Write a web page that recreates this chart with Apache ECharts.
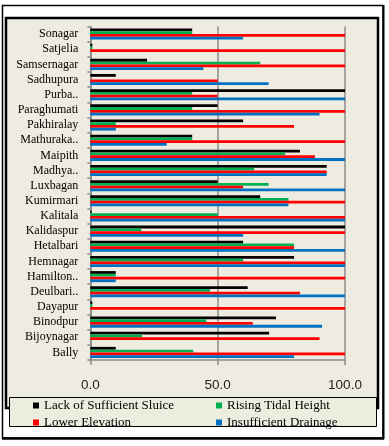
<!DOCTYPE html>
<html><head><meta charset="utf-8">
<script src="https://cdn.jsdelivr.net/npm/echarts@6/dist/echarts.min.js"></script>
<style>html,body{margin:0;padding:0;background:#fff}#c{width:389px;height:446px}</style>
</head><body><div id="c"></div>
<script>
const categories = ['Sonagar','Satjelia','Samsernagar','Sadhupura','Purba..','Paraghumati','Pakhiralay','Mathuraka..','Maipith','Madhya..','Luxbagan','Kumirmari','Kalitala','Kalidaspur','Hetalbari','Hemnagar','Hamilton..','Deulbari..','Dayapur','Binodpur','Bijoynagar','Bally'];
const lackSluice   = [40, 0.8, 22.3, 10, 100, 50, 60, 40, 82.3, 92.8, 50, 66.7, 0.5, 100, 60, 80, 10, 61.8, 0.8, 72.9, 70.2, 10];
const risingTidal  = [40, 0.8, 66.7, 0, 40, 40, 10, 40, 76.5, 64.3, 70, 77.8, 50, 20, 80, 60, 10, 47, 0.8, 45.5, 20.3, 40.4];
const lowerElev    = [100, 100, 100, 50, 50, 100, 80, 100, 88.2, 92.8, 60, 100, 100, 100, 80, 100, 100, 82.3, 100, 63.8, 90, 100];
const insufDrain   = [60, 0, 44.4, 70, 100, 90, 10, 30, 100, 92.8, 100, 77.8, 100, 60, 100, 100, 10, 100, 0, 91, 0, 80];
const seriesNames = ['Lack of Sufficient Sluice','Rising Tidal Height','Lower Elevation','Insufficient Drainage'];
const xTicks = [0, 50, 100];

const colors = ['#000000','#00B050','#FF0000','#0070C0'];
const values = [lackSluice, risingTidal, lowerElev, insufDrain];
const chart = echarts.init(document.getElementById('c'), null, {renderer:'canvas'});
const serif = 'Liberation Serif';
const legendBase = {
  orient:'vertical', itemWidth:6, itemHeight:6, itemGap:4, icon:'rect',
  textStyle:{fontFamily:serif, fontSize:13, color:'#000'}, padding:0, selectedMode:false
};
chart.setOption({
  animation:false,
  backgroundColor:'#ffffff',
  graphic:[
    {type:'rect', z:-10, shape:{x:2.5,y:5.5,width:380.5,height:432.5}, style:{fill:'#fff', stroke:'#000', lineWidth:1.5}},
    {type:'line', z:-9, shape:{x1:2,y1:438.5,x2:384,y2:438.5}, style:{stroke:'#000', lineWidth:2.5}},
    {type:'line', z:-9, shape:{x1:383.5,y1:5,x2:383.5,y2:439}, style:{stroke:'#000', lineWidth:2}},
    {type:'rect', z:-8, shape:{x:6,y:18,width:372,height:390}, style:{fill:'#EEEBE0', stroke:'#000', lineWidth:2.5}},
    {type:'rect', z:-7, shape:{x:9.5,y:397.5,width:367,height:29}, style:{fill:'#EBEEDF', stroke:'#000', lineWidth:1}}
  ],
  legend:[
    Object.assign({left:33, top:399, data:[seriesNames[0], seriesNames[2]]}, legendBase),
    Object.assign({left:216, top:399, data:[seriesNames[1], seriesNames[3]]}, legendBase)
  ],
  grid:{left:90.3, right:44, top:26.5, bottom:86, containLabel:false},
  xAxis:{
    type:'value', min:xTicks[0], max:xTicks[xTicks.length-1], interval:50,
    axisLine:{show:true, lineStyle:{color:'#8C8C8C', width:1.5}},
    axisTick:{show:true, length:5, lineStyle:{color:'#8C8C8C', width:1.5}},
    splitLine:{show:true, lineStyle:{color:'#8C8C8C', width:1.5}},
    axisLabel:{margin:18, fontFamily:'Liberation Sans', fontSize:13.5, color:'#222', formatter:v=>v.toFixed(1)}
  },
  yAxis:{
    type:'category', inverse:true, data:categories,
    axisLine:{show:true, lineStyle:{color:'#8C8C8C', width:1.5}},
    axisTick:{show:true, length:3, lineStyle:{color:'#8C8C8C', width:1.5}},
    axisLabel:{margin:12, fontFamily:serif, fontSize:12, color:'#000', interval:0}
  },
  series: seriesNames.map((n,i)=>({
    name:n, type:'bar', data:values[i], barGap:'0%', barCategoryGap:'27%',
    itemStyle:{color:colors[i]}
  }))
});
</script></body></html>
